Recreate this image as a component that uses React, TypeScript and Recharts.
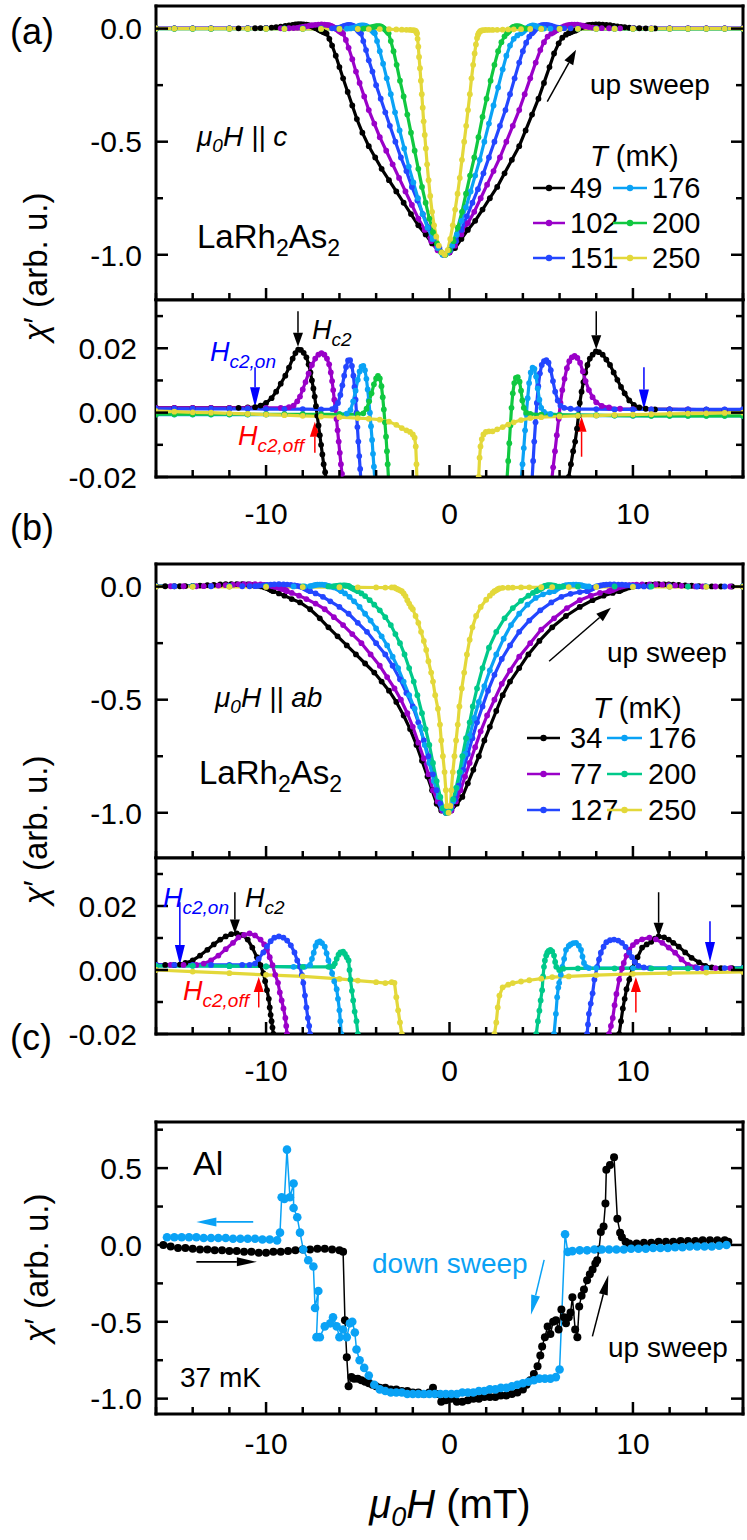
import React from "react";
import { LineChart, Line, XAxis, YAxis, ReferenceLine } from "recharts";

type P = [number, number];

// ---------- axis ticks / labels ----------
const X_TICKS = [-16, -14, -12, -10, -8, -6, -4, -2, 0, 2, 4, 6, 8, 10, 12, 14, 16];
const X_LABELS = [-10, 0, 10];
const Y_TICKS_MAIN = [-1.0, -0.75, -0.5, -0.25, 0];
const Y_LABELS_MAIN: [number, string][] = [[0, "0.0"], [-0.5, "-0.5"], [-1, "-1.0"]];
const Y_TICKS_ZOOM = [-0.02, -0.01, 0, 0.01, 0.02, 0.03];
const Y_LABELS_ZOOM: [number, string][] = [[0.02, "0.02"], [0, "0.00"], [-0.02, "-0.02"]];
const Y_TICKS_C = [-1, -0.75, -0.5, -0.25, 0, 0.25, 0.5, 0.75];
const Y_LABELS_C: [number, string][] = [[0.5, "0.5"], [0, "0.0"], [-0.5, "-0.5"], [-1, "-1.0"]];

// ---------- legend labels ----------
const A_TEMPS = ["49", "102", "151", "176", "200", "250"];
const B_TEMPS = ["34", "77", "127", "176", "200", "250"];

// ---------- colours ----------
const C_BLACK = "#000000";
const C_PURPLE = "#9a00c8";
const C_BLUE = "#2346ff";
const C_LBLUE = "#0aa2f5";
const C_GREEN_A = "#10c840";
const C_GREEN_B = "#00c98a";
const C_YELLOW = "#e3d83a";
const A_COLORS = [C_BLACK, C_PURPLE, C_BLUE, C_LBLUE, C_GREEN_A, C_YELLOW];
const B_COLORS = [C_BLACK, C_PURPLE, C_BLUE, C_LBLUE, C_GREEN_B, C_YELLOW];

// ---------- panel (a): H || c ----------
const A_49: P[] = [
  [-16, 0.0015], [-15, 0.0015], [-14, 0.0015], [-13, 0.0015], [-12, 0.0015], [-11.5, 0.0015], [-11, 0.0016], [-10.6, 0.0017], [-10.3, 0.0022], [-10.0, 0.003], [-9.7, 0.0045], [-9.45, 0.0065], [-9.2, 0.009], [-8.95, 0.0115], [-8.75, 0.014], [-8.55, 0.0168], [-8.4, 0.0185], [-8.25, 0.0196], [-8.1, 0.0195], [-7.95, 0.0186], [-7.8, 0.0172], [-7.68, 0.015], [-7.58, 0.0125], [-7.5, 0.01], [-7.42, 0.0075], [-7.35, 0.005], [-7.28, 0.002], [-7.21, -0.001], [-7.14, -0.004], [-7.07, -0.007], [-7.0, -0.01], [-6.93, -0.013], [-6.86, -0.016], [-6.78, -0.0185], [-6.7, -0.022],
  [-6.55, -0.045], [-6.4, -0.075], [-6.2, -0.12], [-6.0, -0.17], [-5.8, -0.22], [-5.55, -0.28], [-5.3, -0.34], [-5.05, -0.4], [-4.75, -0.46], [-4.4, -0.52], [-4.05, -0.57], [-3.7, -0.62], [-3.3, -0.67], [-2.9, -0.72], [-2.5, -0.77], [-2.1, -0.82], [-1.7, -0.87], [-1.3, -0.91], [-0.95, -0.95], [-0.6, -0.98], [-0.3, -1.0],
  [0.0, -0.99], [0.3, -0.97], [0.65, -0.93], [1.0, -0.89], [1.4, -0.85], [1.8, -0.8], [2.2, -0.75], [2.6, -0.7], [3.0, -0.64], [3.4, -0.58], [3.8, -0.52], [4.15, -0.45], [4.5, -0.38], [4.85, -0.31], [5.15, -0.24], [5.45, -0.17], [5.7, -0.11], [5.95, -0.065], [6.15, -0.04], [6.35, -0.027], [6.5, -0.02],
  [6.62, -0.016], [6.74, -0.012], [6.85, -0.009], [6.95, -0.005], [7.03, -0.001], [7.1, 0.003], [7.2, 0.0065], [7.3, 0.0095], [7.4, 0.0125], [7.52, 0.0148], [7.65, 0.0168], [7.8, 0.018], [7.98, 0.019], [8.15, 0.0188], [8.35, 0.018], [8.55, 0.0165], [8.75, 0.0148], [8.95, 0.0125], [9.15, 0.0102], [9.35, 0.008], [9.55, 0.006], [9.8, 0.0038], [10.05, 0.0024], [10.35, 0.0016], [10.7, 0.0012], [11.2, 0.001], [12, 0.001], [13, 0.0009], [14, 0.0009], [15, 0.0008], [16, 0.0008],
];
const A_102: P[] = [
  [-16, 0.0015], [-15, 0.0015], [-14, 0.0015], [-13, 0.0015], [-12, 0.0015], [-11, 0.0015], [-10, 0.0015], [-9.2, 0.0015], [-8.75, 0.0017], [-8.5, 0.0022], [-8.3, 0.0035], [-8.15, 0.005], [-8.0, 0.0072], [-7.85, 0.0095], [-7.68, 0.0122], [-7.5, 0.0148], [-7.32, 0.0168], [-7.15, 0.018], [-6.98, 0.0185], [-6.82, 0.018], [-6.68, 0.0168], [-6.56, 0.015], [-6.47, 0.0125], [-6.4, 0.0098], [-6.34, 0.007], [-6.28, 0.004], [-6.22, 0.001], [-6.16, -0.002], [-6.1, -0.0055], [-6.04, -0.009], [-5.98, -0.0125], [-5.92, -0.016], [-5.86, -0.019], [-5.8, -0.022],
  [-5.65, -0.05], [-5.5, -0.085], [-5.3, -0.135], [-5.1, -0.19], [-4.9, -0.24], [-4.65, -0.3], [-4.4, -0.36], [-4.1, -0.42], [-3.8, -0.48], [-3.45, -0.54], [-3.1, -0.6], [-2.75, -0.66], [-2.4, -0.72], [-2.05, -0.78], [-1.7, -0.84], [-1.35, -0.89], [-1.0, -0.94], [-0.65, -0.98], [-0.3, -1.0],
  [0.0, -0.99], [0.3, -0.96], [0.65, -0.91], [1.0, -0.86], [1.35, -0.81], [1.7, -0.75], [2.05, -0.69], [2.4, -0.63], [2.75, -0.57], [3.1, -0.5], [3.45, -0.43], [3.8, -0.36], [4.1, -0.29], [4.4, -0.22], [4.7, -0.15], [4.95, -0.095], [5.15, -0.06], [5.35, -0.035], [5.55, -0.022],
  [5.65, -0.017], [5.75, -0.012], [5.85, -0.007], [5.95, -0.002], [6.05, 0.003], [6.15, 0.007], [6.27, 0.0105], [6.4, 0.0138], [6.53, 0.016], [6.67, 0.0172], [6.82, 0.0176], [6.97, 0.017], [7.12, 0.0155], [7.27, 0.0128], [7.42, 0.0098], [7.6, 0.007], [7.8, 0.0048], [8.0, 0.0032], [8.3, 0.0021], [8.7, 0.0016], [9.3, 0.0012], [10, 0.0011], [11, 0.001], [12, 0.001], [13, 0.001], [14, 0.0009], [15, 0.0009], [16, 0.0009],
];
const A_151: P[] = [
  [-16, 0.0012], [-15, 0.0012], [-14, 0.0012], [-13, 0.0012], [-12, 0.0012], [-11, 0.0012], [-10, 0.0011], [-9, 0.0011], [-8, 0.0011], [-7, 0.001], [-6.4, 0.0011], [-6.22, 0.0017], [-6.08, 0.003], [-5.95, 0.0055], [-5.84, 0.0085], [-5.74, 0.0115], [-5.64, 0.0142], [-5.53, 0.0162], [-5.42, 0.0163], [-5.32, 0.0145], [-5.24, 0.0115], [-5.18, 0.008], [-5.12, 0.004], [-5.07, 0.0], [-5.02, -0.0045], [-4.97, -0.009], [-4.92, -0.0135], [-4.87, -0.0175], [-4.82, -0.022],
  [-4.7, -0.055], [-4.55, -0.095], [-4.4, -0.14], [-4.2, -0.19], [-4.0, -0.25], [-3.75, -0.31], [-3.5, -0.37], [-3.25, -0.43], [-2.95, -0.5], [-2.65, -0.57], [-2.35, -0.63], [-2.05, -0.7], [-1.75, -0.76], [-1.45, -0.82], [-1.15, -0.88], [-0.85, -0.93], [-0.55, -0.97], [-0.25, -1.0],
  [0.05, -0.98], [0.35, -0.94], [0.65, -0.89], [0.95, -0.83], [1.25, -0.77], [1.55, -0.71], [1.85, -0.64], [2.15, -0.57], [2.45, -0.5], [2.75, -0.43], [3.05, -0.36], [3.3, -0.29], [3.55, -0.22], [3.8, -0.15], [4.0, -0.1], [4.18, -0.062], [4.35, -0.035], [4.5, -0.021],
  [4.56, -0.015], [4.62, -0.009], [4.69, -0.003], [4.76, 0.003], [4.84, 0.0082], [4.93, 0.0122], [5.03, 0.0148], [5.15, 0.016], [5.28, 0.0163], [5.4, 0.0155], [5.52, 0.0132], [5.64, 0.0098], [5.76, 0.0065], [5.9, 0.0038], [6.05, 0.0022], [6.25, 0.0015], [6.6, 0.0012], [7, 0.0011], [8, 0.0011], [9, 0.001], [10, 0.001], [11, 0.001], [12, 0.001], [13, 0.001], [14, 0.001], [15, 0.001], [16, 0.001],
];
const A_176: P[] = [
  [-16, -0.0006], [-15, -0.0006], [-14, -0.0006], [-13, -0.0006], [-12, -0.0006], [-11, -0.0006], [-10, -0.0006], [-9, -0.0006], [-8, -0.0006], [-7, -0.0006], [-6, -0.0005], [-5.6, -0.0003], [-5.4, 0.0008], [-5.25, 0.0035], [-5.12, 0.0068], [-5.0, 0.0102], [-4.9, 0.0128], [-4.8, 0.0143], [-4.7, 0.0145], [-4.61, 0.0132], [-4.53, 0.0105], [-4.46, 0.0072], [-4.4, 0.0038], [-4.34, 0.0], [-4.28, -0.0042], [-4.22, -0.0085], [-4.17, -0.0128], [-4.12, -0.0168], [-4.07, -0.021],
  [-3.95, -0.055], [-3.8, -0.1], [-3.62, -0.155], [-3.42, -0.22], [-3.2, -0.29], [-2.97, -0.37], [-2.72, -0.45], [-2.47, -0.53], [-2.22, -0.61], [-1.97, -0.68], [-1.72, -0.75], [-1.47, -0.82], [-1.2, -0.88], [-0.93, -0.93], [-0.65, -0.97], [-0.38, -1.0],
  [-0.1, -0.99], [0.15, -0.96], [0.4, -0.91], [0.65, -0.85], [0.9, -0.79], [1.15, -0.72], [1.4, -0.65], [1.65, -0.58], [1.9, -0.5], [2.15, -0.42], [2.4, -0.34], [2.65, -0.26], [2.9, -0.18], [3.1, -0.12], [3.3, -0.075], [3.5, -0.045], [3.7, -0.03], [3.9, -0.021],
  [3.98, -0.016], [4.05, -0.011], [4.12, -0.0055], [4.19, -0.0005], [4.26, 0.0045], [4.34, 0.0092], [4.43, 0.0125], [4.53, 0.014], [4.63, 0.0136], [4.72, 0.0112], [4.81, 0.0075], [4.9, 0.004], [5.0, 0.0015], [5.15, 0.0002], [5.5, -0.0004], [6, -0.0007], [7, -0.0008], [8, -0.0009], [9, -0.0009], [10, -0.001], [11, -0.001], [12, -0.001], [13, -0.001], [14, -0.001], [15, -0.001], [16, -0.001],
];
const A_200: P[] = [
  [-16, -0.0005], [-15, -0.0005], [-14, -0.0005], [-13, -0.0005], [-12, -0.0005], [-11, -0.0005], [-10, -0.0005], [-9, -0.0005], [-8, -0.0005], [-7, -0.0005], [-6, -0.0005], [-5, -0.0005], [-4.7, -0.0002], [-4.52, 0.0012], [-4.38, 0.0035], [-4.25, 0.006], [-4.12, 0.0088], [-4.0, 0.0106], [-3.9, 0.0114], [-3.8, 0.0106], [-3.71, 0.0082], [-3.64, 0.0048], [-3.58, 0.001], [-3.52, -0.003], [-3.46, -0.0075], [-3.41, -0.012], [-3.37, -0.016], [-3.32, -0.021],
  [-3.2, -0.055], [-3.05, -0.1], [-2.88, -0.16], [-2.7, -0.23], [-2.5, -0.3], [-2.3, -0.38], [-2.1, -0.46], [-1.9, -0.54], [-1.7, -0.62], [-1.5, -0.7], [-1.3, -0.77], [-1.1, -0.84], [-0.9, -0.9], [-0.68, -0.95], [-0.45, -0.99], [-0.22, -1.0],
  [0.0, -0.98], [0.22, -0.94], [0.45, -0.88], [0.68, -0.81], [0.9, -0.73], [1.12, -0.65], [1.35, -0.57], [1.58, -0.48], [1.8, -0.39], [2.02, -0.31], [2.24, -0.23], [2.45, -0.16], [2.65, -0.1], [2.83, -0.06], [3.0, -0.034], [3.13, -0.021],
  [3.2, -0.015], [3.26, -0.0095], [3.32, -0.004], [3.38, 0.0015], [3.45, 0.006], [3.53, 0.0092], [3.62, 0.0108], [3.72, 0.011], [3.82, 0.0096], [3.9, 0.0068], [3.97, 0.0038], [4.05, 0.0015], [4.18, 0.0], [4.4, -0.0004], [5, -0.0006], [6, -0.0007], [7, -0.0008], [8, -0.0008], [9, -0.0009], [10, -0.0009], [11, -0.001], [12, -0.001], [13, -0.001], [14, -0.001], [15, -0.001], [16, -0.001],
];
const A_250: P[] = [
  [-16, 0.0005], [-15, 0.0003], [-14, 0.0001], [-13, 0.0], [-12, -0.0002], [-11, -0.0004], [-10, -0.0006], [-9, -0.0008], [-8, -0.001], [-7, -0.0012], [-6, -0.0014], [-5, -0.0017], [-4.4, -0.0019], [-3.8, -0.0022], [-3.3, -0.0028], [-2.9, -0.0038], [-2.6, -0.0048], [-2.35, -0.0055], [-2.15, -0.006], [-2.0, -0.0068], [-1.9, -0.0078], [-1.84, -0.0105], [-1.8, -0.016], [-1.77, -0.022],
  [-1.74, -0.045], [-1.7, -0.08], [-1.66, -0.125], [-1.61, -0.175], [-1.56, -0.23], [-1.51, -0.29], [-1.46, -0.35], [-1.41, -0.41], [-1.35, -0.47], [-1.29, -0.53], [-1.22, -0.6], [-1.14, -0.67], [-1.05, -0.74], [-0.95, -0.81], [-0.84, -0.87], [-0.72, -0.92], [-0.58, -0.96], [-0.42, -0.99], [-0.26, -1.0],
  [-0.1, -0.98], [0.04, -0.93], [0.18, -0.87], [0.31, -0.8], [0.44, -0.73], [0.56, -0.66], [0.68, -0.58], [0.8, -0.5], [0.91, -0.43], [1.01, -0.36], [1.11, -0.29], [1.2, -0.22], [1.29, -0.16], [1.37, -0.11], [1.44, -0.07], [1.5, -0.042], [1.55, -0.028], [1.59, -0.02],
  [1.64, -0.014], [1.69, -0.0105], [1.76, -0.0082], [1.85, -0.0068], [1.98, -0.006], [2.15, -0.0058], [2.35, -0.0058], [2.6, -0.0052], [2.9, -0.0045], [3.2, -0.0037], [3.5, -0.003], [3.9, -0.0023], [4.4, -0.0017], [5, -0.0014], [6, -0.0012], [7, -0.001], [8, -0.0009], [9, -0.0007], [10, -0.0006], [11, -0.0005], [12, -0.0004], [13, -0.0003], [14, -0.0002], [15, -0.0001], [16, 0.0],
];

// ---------- panel (b): H || ab ----------
const B_34: P[] = [
  [-16, 0.0016], [-15.5, 0.0016], [-15, 0.0016], [-14.7, 0.0017], [-14.4, 0.0022], [-14.0, 0.003], [-13.6, 0.0045], [-13.2, 0.0063], [-12.85, 0.008], [-12.5, 0.0095], [-12.2, 0.0105], [-11.9, 0.0112], [-11.6, 0.0114], [-11.3, 0.011], [-11.0, 0.0095], [-10.75, 0.007], [-10.5, 0.004], [-10.3, 0.0015], [-10.15, -0.001], [-10.05, -0.0035], [-9.95, -0.0063], [-9.85, -0.009], [-9.8, -0.0117], [-9.75, -0.014], [-9.7, -0.016], [-9.65, -0.018], [-9.6, -0.02],
  [-9.3, -0.03], [-9.0, -0.04], [-8.6, -0.055], [-8.15, -0.07], [-7.6, -0.1], [-7.07, -0.14], [-6.6, -0.18], [-6.1, -0.22], [-5.6, -0.26], [-5.1, -0.3], [-4.6, -0.34], [-4.1, -0.38], [-3.7, -0.42], [-3.3, -0.46], [-2.9, -0.51], [-2.5, -0.57], [-2.15, -0.63], [-1.8, -0.7], [-1.5, -0.77], [-1.2, -0.84], [-0.95, -0.9], [-0.7, -0.96], [-0.45, -0.99], [-0.2, -1.0],
  [0.1, -0.99], [0.4, -0.96], [0.7, -0.93], [1.0, -0.87], [1.3, -0.81], [1.6, -0.75], [1.9, -0.68], [2.2, -0.62], [2.55, -0.55], [2.9, -0.48], [3.3, -0.42], [3.8, -0.36], [4.3, -0.3], [4.9, -0.24], [5.6, -0.18], [6.35, -0.13], [7.1, -0.09], [7.8, -0.06], [8.4, -0.04], [8.9, -0.028], [9.25, -0.02],
  [9.35, -0.016], [9.45, -0.012], [9.55, -0.009], [9.65, -0.006], [9.8, -0.003], [9.97, 0.0006], [10.1, 0.0025], [10.25, 0.004], [10.5, 0.007], [10.75, 0.008], [11.0, 0.0088], [11.2, 0.0098], [11.4, 0.0105], [11.7, 0.0102], [11.95, 0.0095], [12.2, 0.0085], [12.5, 0.0073], [12.85, 0.0055], [13.2, 0.0038], [13.6, 0.0024], [13.95, 0.0013], [14.3, 0.0008], [14.8, 0.0006], [15.4, 0.0006], [16, 0.0006],
];
const B_77: P[] = [
  [-16, 0.0016], [-15.2, 0.0016], [-14.5, 0.0016], [-13.8, 0.0016], [-13.4, 0.002], [-13.0, 0.003], [-12.6, 0.0045], [-12.2, 0.0065], [-11.8, 0.0085], [-11.5, 0.0102], [-11.2, 0.011], [-10.9, 0.0114], [-10.6, 0.0108], [-10.3, 0.0095], [-10.1, 0.008], [-9.95, 0.0063], [-9.8, 0.004], [-9.65, 0.0015], [-9.5, -0.0015], [-9.35, -0.004], [-9.25, -0.007], [-9.15, -0.0095], [-9.05, -0.012], [-8.95, -0.015], [-8.9, -0.0175], [-8.86, -0.02],
  [-8.6, -0.028], [-8.2, -0.04], [-7.8, -0.055], [-7.3, -0.075], [-6.8, -0.1], [-6.3, -0.135], [-5.8, -0.17], [-5.3, -0.21], [-4.8, -0.25], [-4.3, -0.3], [-3.8, -0.35], [-3.4, -0.4], [-3.0, -0.45], [-2.65, -0.5], [-2.3, -0.56], [-2.0, -0.62], [-1.7, -0.69], [-1.4, -0.76], [-1.15, -0.83], [-0.9, -0.9], [-0.65, -0.95], [-0.4, -0.99], [-0.15, -1.0],
  [0.1, -0.99], [0.35, -0.95], [0.6, -0.9], [0.85, -0.84], [1.1, -0.78], [1.4, -0.71], [1.7, -0.64], [2.05, -0.57], [2.45, -0.5], [2.85, -0.43], [3.3, -0.37], [3.8, -0.31], [4.4, -0.25], [5.0, -0.19], [5.7, -0.14], [6.4, -0.095], [7.1, -0.06], [7.7, -0.04], [8.2, -0.028], [8.7, -0.02],
  [8.8, -0.0175], [8.9, -0.015], [9.0, -0.011], [9.1, -0.0075], [9.25, -0.003], [9.4, 0.0005], [9.5, 0.0022], [9.65, 0.0045], [9.8, 0.0063], [10.0, 0.0078], [10.2, 0.0088], [10.5, 0.0096], [10.9, 0.0101], [11.25, 0.0096], [11.6, 0.0085], [11.95, 0.007], [12.3, 0.0054], [12.65, 0.0033], [13.0, 0.0016], [13.4, 0.0009], [13.8, 0.0006], [14.5, 0.0006], [15.3, 0.0006], [16, 0.0006],
];
const B_127: P[] = [
  [-16, 0.0016], [-15, 0.0016], [-14, 0.0016], [-13, 0.0016], [-12, 0.0016], [-11.3, 0.0016], [-10.9, 0.0016], [-10.6, 0.002], [-10.4, 0.0035], [-10.15, 0.0055], [-9.95, 0.0073], [-9.75, 0.009], [-9.55, 0.0101], [-9.3, 0.0105], [-9.05, 0.0101], [-8.85, 0.0092], [-8.65, 0.0077], [-8.45, 0.0055], [-8.3, 0.003], [-8.15, 0.001], [-8.05, -0.0015], [-7.97, -0.004], [-7.88, -0.008], [-7.8, -0.0117], [-7.72, -0.015], [-7.65, -0.0175], [-7.6, -0.02],
  [-7.3, -0.03], [-6.9, -0.045], [-6.5, -0.065], [-6.0, -0.09], [-5.5, -0.12], [-5.0, -0.16], [-4.5, -0.2], [-4.0, -0.25], [-3.5, -0.3], [-3.1, -0.35], [-2.7, -0.41], [-2.35, -0.47], [-2.0, -0.53], [-1.7, -0.6], [-1.4, -0.68], [-1.15, -0.75], [-0.9, -0.83], [-0.7, -0.9], [-0.5, -0.96], [-0.3, -0.99], [-0.1, -1.0],
  [0.1, -0.98], [0.3, -0.94], [0.5, -0.88], [0.75, -0.81], [1.0, -0.74], [1.25, -0.67], [1.5, -0.6], [1.8, -0.53], [2.1, -0.46], [2.45, -0.39], [2.85, -0.32], [3.3, -0.26], [3.8, -0.2], [4.35, -0.15], [4.95, -0.105], [5.55, -0.07], [6.1, -0.045], [6.6, -0.032], [7.1, -0.024], [7.5, -0.02],
  [7.55, -0.017], [7.6, -0.0137], [7.7, -0.0105], [7.8, -0.0073], [7.9, -0.003], [8.05, 0.001], [8.15, 0.0033], [8.25, 0.0054], [8.4, 0.0073], [8.55, 0.0087], [8.75, 0.0093], [8.97, 0.0095], [9.2, 0.0092], [9.4, 0.0085], [9.6, 0.0072], [9.8, 0.0055], [9.95, 0.004], [10.1, 0.0025], [10.3, 0.0013], [10.6, 0.0008], [10.9, 0.0006], [12, 0.0006], [13.5, 0.0006], [15, 0.0006], [16, 0.0006],
];
const B_176: P[] = [
  [-16, 0.0013], [-14, 0.0013], [-12, 0.0012], [-10, 0.0011], [-8.5, 0.001], [-7.9, 0.001], [-7.6, 0.0016], [-7.5, 0.0035], [-7.4, 0.0054], [-7.3, 0.0075], [-7.2, 0.0086], [-7.07, 0.0089], [-6.95, 0.0084], [-6.8, 0.0073], [-6.7, 0.0052], [-6.6, 0.003], [-6.5, 0.001], [-6.4, -0.001], [-6.28, -0.0035], [-6.15, -0.006], [-6.08, -0.009], [-6.0, -0.0126], [-5.95, -0.016], [-5.9, -0.02],
  [-5.7, -0.03], [-5.45, -0.045], [-5.2, -0.065], [-4.9, -0.09], [-4.6, -0.12], [-4.3, -0.15], [-4.0, -0.185], [-3.7, -0.22], [-3.4, -0.26], [-3.1, -0.31], [-2.8, -0.36], [-2.5, -0.42], [-2.2, -0.48], [-1.9, -0.54], [-1.6, -0.62], [-1.35, -0.7], [-1.1, -0.78], [-0.85, -0.86], [-0.6, -0.93], [-0.4, -0.98], [-0.2, -1.0],
  [0.0, -0.99], [0.2, -0.95], [0.4, -0.89], [0.6, -0.82], [0.85, -0.74], [1.1, -0.66], [1.35, -0.58], [1.6, -0.51], [1.9, -0.44], [2.2, -0.37], [2.55, -0.3], [2.95, -0.23], [3.35, -0.17], [3.8, -0.12], [4.25, -0.08], [4.7, -0.05], [5.1, -0.034], [5.45, -0.025], [5.7, -0.02],
  [5.8, -0.0137], [5.87, -0.0085], [5.93, -0.0055], [5.98, -0.004], [6.07, -0.0015], [6.15, 0.001], [6.25, 0.0035], [6.35, 0.0063], [6.5, 0.0075], [6.6, 0.008], [6.75, 0.0084], [6.9, 0.0085], [7.05, 0.0076], [7.17, 0.0063], [7.25, 0.0042], [7.33, 0.0022], [7.45, 0.001], [7.6, 0.0006], [8, 0.0006], [10, 0.0006], [12, 0.0006], [14, 0.0006], [16, 0.0006],
];
const B_200: P[] = [
  [-16, 0.0013], [-14, 0.0013], [-12, 0.0012], [-10, 0.0011], [-8, 0.001], [-6.6, 0.001], [-6.35, 0.0012], [-6.25, 0.002], [-6.15, 0.0035], [-6.05, 0.0048], [-5.95, 0.0055], [-5.8, 0.0057], [-5.7, 0.005], [-5.6, 0.004], [-5.5, 0.003], [-5.45, 0.0], [-5.4, -0.003], [-5.32, -0.0065], [-5.25, -0.0095], [-5.17, -0.013], [-5.07, -0.016], [-5.0, -0.02],
  [-4.8, -0.03], [-4.6, -0.042], [-4.35, -0.06], [-4.1, -0.08], [-3.8, -0.105], [-3.5, -0.135], [-3.2, -0.17], [-2.95, -0.21], [-2.7, -0.25], [-2.45, -0.3], [-2.2, -0.36], [-1.95, -0.42], [-1.75, -0.48], [-1.5, -0.56], [-1.3, -0.63], [-1.1, -0.7], [-0.9, -0.78], [-0.7, -0.86], [-0.5, -0.93], [-0.35, -0.98], [-0.15, -1.0],
  [0.05, -0.98], [0.2, -0.94], [0.36, -0.89], [0.55, -0.82], [0.7, -0.75], [0.9, -0.67], [1.1, -0.6], [1.27, -0.53], [1.5, -0.45], [1.8, -0.36], [2.15, -0.27], [2.55, -0.2], [3.0, -0.14], [3.45, -0.095], [3.9, -0.063], [4.3, -0.04], [4.55, -0.028], [4.73, -0.02],
  [4.82, -0.016], [4.9, -0.0127], [4.97, -0.0095], [5.05, -0.0063], [5.1, -0.002], [5.15, 0.001], [5.2, 0.003], [5.27, 0.0045], [5.33, 0.0054], [5.4, 0.006], [5.5, 0.0063], [5.6, 0.0058], [5.7, 0.0045], [5.76, 0.0025], [5.82, 0.001], [5.98, 0.0], [6.2, 0.0004], [7, 0.0005], [9, 0.0005], [11, 0.0005], [13, 0.0005], [16, 0.0005],
];
const B_250: P[] = [
  [-16, 0.0], [-14, -0.0005], [-12, -0.001], [-10, -0.0015], [-8, -0.002], [-6, -0.0028], [-5, -0.0033], [-4, -0.0038], [-3.5, -0.0041], [-3.15, -0.0038], [-3.0, -0.004], [-2.9, -0.0085], [-2.8, -0.0126], [-2.7, -0.0164], [-2.6, -0.02],
  [-2.5, -0.03], [-2.4, -0.042], [-2.3, -0.06], [-2.2, -0.075], [-2.1, -0.09], [-2.0, -0.1], [-1.85, -0.13], [-1.7, -0.16], [-1.55, -0.2], [-1.4, -0.24], [-1.27, -0.28], [-1.15, -0.33], [-1.0, -0.38], [-0.9, -0.42], [-0.78, -0.48], [-0.63, -0.54], [-0.52, -0.61], [-0.45, -0.68], [-0.36, -0.75], [-0.27, -0.82], [-0.2, -0.9], [-0.15, -0.97], [-0.05, -1.0],
  [0.05, -0.97], [0.1, -0.9], [0.18, -0.82], [0.27, -0.75], [0.36, -0.68], [0.45, -0.61], [0.54, -0.53], [0.67, -0.45], [0.8, -0.38], [0.95, -0.3], [1.1, -0.235], [1.25, -0.18], [1.45, -0.13], [1.7, -0.09], [2.0, -0.058], [2.2, -0.04], [2.35, -0.028], [2.45, -0.02],
  [2.55, -0.0164], [2.63, -0.0117], [2.72, -0.008], [2.9, -0.0054], [3.2, -0.0046], [3.45, -0.0041], [3.9, -0.0036], [4.35, -0.0032], [5, -0.0027], [5.6, -0.0022], [6.5, -0.002], [8, -0.0016], [10, -0.0012], [12, -0.001], [14, -0.0008], [16, -0.0006],
];

// ---------- panel (c): Al, 37 mK ----------
const C_UP: P[] = [
  [-15.6, 0.0], [-15.2, -0.01], [-14.8, -0.02], [-14.4, -0.02], [-14.0, -0.025], [-13.6, -0.03], [-13.2, -0.03], [-12.8, -0.035], [-12.4, -0.035], [-12.0, -0.04], [-11.6, -0.04], [-11.2, -0.045], [-10.8, -0.045], [-10.4, -0.05], [-10.0, -0.05], [-9.6, -0.045], [-9.2, -0.045], [-8.8, -0.04], [-8.4, -0.035], [-8.0, -0.03], [-7.6, -0.03], [-7.2, -0.025], [-6.8, -0.025], [-6.4, -0.03], [-6.0, -0.035], [-5.8, -0.045],
  [-5.7, -0.49], [-5.6, -0.73], [-5.5, -0.92], [-5.35, -0.86], [-5.2, -0.87], [-5.0, -0.87], [-4.8, -0.88], [-4.6, -0.89], [-4.4, -0.9], [-4.2, -0.91], [-4.0, -0.92], [-3.8, -0.93], [-3.5, -0.93], [-3.2, -0.94], [-2.9, -0.94], [-2.6, -0.95], [-2.3, -0.95], [-2.0, -0.96], [-1.7, -0.96], [-1.4, -0.97], [-1.1, -0.96], [-0.9, -0.93], [-0.7, -0.97], [-0.45, -1.02], [-0.2, -1.01], [0.1, -1.0], [0.4, -1.02], [0.7, -1.02], [1.0, -1.01], [1.3, -1.0], [1.6, -1.0], [1.9, -0.99], [2.2, -0.99], [2.5, -0.99], [2.8, -0.98], [3.1, -0.98], [3.4, -0.97], [3.7, -0.96], [4.0, -0.94], [4.2, -0.91], [4.4, -0.88], [4.6, -0.84], [4.8, -0.79], [4.95, -0.72], [5.05, -0.66], [5.2, -0.6], [5.35, -0.53], [5.5, -0.58], [5.65, -0.5], [5.8, -0.49], [5.95, -0.55], [6.1, -0.42], [6.25, -0.47], [6.35, -0.51], [6.5, -0.47], [6.6, -0.44], [6.7, -0.34], [6.85, -0.55], [6.97, -0.6], [7.07, -0.4], [7.2, -0.33], [7.33, -0.29], [7.5, -0.23], [7.65, -0.19], [7.8, -0.16], [7.95, -0.12], [8.05, -0.1], [8.15, -0.03], [8.25, 0.085], [8.4, 0.12], [8.5, 0.27], [8.55, 0.49], [8.75, 0.52], [8.97, 0.57], [9.15, 0.17], [9.3, 0.08], [9.4, 0.05], [9.6, 0.02], [9.8, 0.01], [10.2, 0.01], [10.6, 0.015], [11.0, 0.015], [11.4, 0.02], [11.8, 0.02], [12.2, 0.02], [12.6, 0.025], [13.0, 0.025], [13.4, 0.025], [13.8, 0.03], [14.2, 0.03], [14.6, 0.03], [15.0, 0.03], [15.2, 0.02],
];
const C_DOWN: P[] = [
  [15.1, 0.0], [14.7, -0.005], [14.3, -0.01], [13.9, -0.01], [13.5, -0.01], [13.1, -0.01], [12.7, -0.015], [12.3, -0.015], [11.9, -0.02], [11.5, -0.02], [11.1, -0.02], [10.7, -0.025], [10.3, -0.025], [9.9, -0.025], [9.5, -0.03], [9.1, -0.03], [8.7, -0.03], [8.3, -0.03], [7.9, -0.03], [7.5, -0.035], [7.1, -0.035], [6.7, -0.04], [6.45, -0.045], [6.3, 0.07],
  [6.0, -0.81], [5.8, -0.86], [5.5, -0.87], [5.2, -0.87], [4.9, -0.87], [4.6, -0.88], [4.3, -0.89], [4.0, -0.9], [3.7, -0.91], [3.4, -0.92], [3.1, -0.93], [2.8, -0.93], [2.5, -0.94], [2.2, -0.94], [1.9, -0.95], [1.6, -0.95], [1.3, -0.96], [1.0, -0.96], [0.7, -0.96], [0.4, -0.97], [0.1, -0.97], [-0.2, -0.97], [-0.5, -0.97], [-0.8, -0.97], [-1.1, -0.97], [-1.4, -0.97], [-1.7, -0.97], [-2.0, -0.97], [-2.3, -0.97], [-2.6, -0.96], [-2.9, -0.96], [-3.2, -0.96], [-3.5, -0.95], [-3.8, -0.94], [-4.1, -0.91], [-4.4, -0.85], [-4.65, -0.8], [-4.9, -0.75], [-5.07, -0.68], [-5.16, -0.57], [-5.3, -0.5], [-5.43, -0.51], [-5.6, -0.6], [-5.8, -0.55], [-6.0, -0.6], [-6.15, -0.53], [-6.35, -0.47], [-6.5, -0.51], [-6.8, -0.53], [-7.07, -0.6], [-7.25, -0.6], [-7.15, -0.3], [-7.33, -0.41], [-7.42, -0.14], [-7.7, -0.1], [-7.97, -0.03], [-8.15, 0.08], [-8.3, 0.18], [-8.5, 0.24], [-8.5, 0.4], [-8.7, 0.31], [-8.86, 0.62], [-9.0, 0.3], [-9.15, 0.31], [-9.24, 0.08], [-9.4, 0.03],
  [-9.8, 0.035], [-10.2, 0.035], [-10.6, 0.04], [-11.0, 0.04], [-11.4, 0.04], [-11.8, 0.04], [-12.2, 0.045], [-12.6, 0.045], [-13.0, 0.045], [-13.4, 0.045], [-13.8, 0.05], [-14.2, 0.05], [-14.6, 0.05], [-15.0, 0.05], [-15.4, 0.05],
];

// ---------- helpers ----------
const FONT = "'Liberation Sans', Arial, Helvetica, sans-serif";
const AXIS_LINE = { stroke: "#000", strokeWidth: 3, strokeLinecap: "square" as const };
const TW = 2.5;
const TL_MAJ = 12;
const TL_MIN = 7;

const toPts = (a: P[]) => a.map(([x, y]) => ({ x, y }));

type Series = { pts: { x: number; y: number }[]; color: string; r: number; sw: number };
type Arrow = { x1: number; y1: number; x2: number; y2: number; color: string; sw: number; hl: number; hw: number };

const A_SERIES = [A_49, A_102, A_151, A_176, A_200, A_250].map((d, i) => ({ pts: toPts(d), color: A_COLORS[i], r: 2.9, sw: 3.2 }));
const B_SERIES = [B_34, B_77, B_127, B_176, B_200, B_250].map((d, i) => ({ pts: toPts(d), color: B_COLORS[i], r: 2.9, sw: 3.2 }));
const C_SERIES = [
  { pts: toPts(C_UP), color: C_BLACK, r: 4, sw: 1.5 },
  { pts: toPts(C_DOWN), color: C_LBLUE, r: 4.3, sw: 1.5 },
];

const ARROWS_A1: Arrow[] = [{ x1: 5.33, y1: -0.323, x2: 6.9, y2: -0.093, color: "#000", sw: 1.5, hl: 15, hw: 10 }];
const ARROWS_A2: Arrow[] = [
  { x1: -8.26, y1: 0.0315, x2: -8.26, y2: 0.0205, color: "#000", sw: 1.5, hl: 14, hw: 10 },
  { x1: 8.0, y1: 0.0315, x2: 8.0, y2: 0.0197, color: "#000", sw: 1.5, hl: 14, hw: 10 },
  { x1: -10.6, y1: 0.0141, x2: -10.6, y2: 0.0017, color: "#0000ff", sw: 1.5, hl: 20, hw: 10 },
  { x1: 10.6, y1: 0.0141, x2: 10.6, y2: 0.001, color: "#0000ff", sw: 1.5, hl: 20, hw: 10 },
  { x1: -7.34, y1: -0.0125, x2: -7.34, y2: -0.0028, color: "#ff0000", sw: 1.5, hl: 15, hw: 10 },
  { x1: 7.2, y1: -0.0137, x2: 7.2, y2: -0.0013, color: "#ff0000", sw: 1.5, hl: 15, hw: 10 },
];
const ARROWS_B1: Arrow[] = [{ x1: 5.43, y1: -0.33, x2: 8.8, y2: -0.093, color: "#000", sw: 1.5, hl: 15, hw: 10 }];
const ARROWS_B2: Arrow[] = [
  { x1: -11.7, y1: 0.0243, x2: -11.7, y2: 0.0114, color: "#000", sw: 1.5, hl: 14, hw: 10 },
  { x1: 11.4, y1: 0.0243, x2: 11.4, y2: 0.0104, color: "#000", sw: 1.5, hl: 14, hw: 10 },
  { x1: -14.7, y1: 0.0212, x2: -14.7, y2: 0.0016, color: "#0000ff", sw: 1.5, hl: 20, hw: 10 },
  { x1: 14.2, y1: 0.0152, x2: 14.2, y2: 0.0025, color: "#0000ff", sw: 1.5, hl: 20, hw: 10 },
  { x1: -10.4, y1: -0.0117, x2: -10.4, y2: -0.0022, color: "#ff0000", sw: 1.5, hl: 15, hw: 10 },
  { x1: 10.16, y1: -0.0133, x2: 10.16, y2: -0.0022, color: "#ff0000", sw: 1.5, hl: 15, hw: 10 },
];
const ARROWS_C: Arrow[] = [
  { x1: -10.7, y1: 0.15, x2: -13.8, y2: 0.15, color: C_LBLUE, sw: 1.8, hl: 20, hw: 9 },
  { x1: -13.8, y1: -0.11, x2: -10.5, y2: -0.11, color: "#000", sw: 1.8, hl: 20, hw: 9 },
  { x1: 5.16, y1: -0.097, x2: 4.44, y2: -0.455, color: C_LBLUE, sw: 1.5, hl: 20, hw: 9 },
  { x1: 7.79, y1: -0.595, x2: 8.66, y2: -0.195, color: "#000", sw: 1.5, hl: 20, hw: 9 },
];

function arrowShape(p: any, a: Arrow) {
  const { x1, y1, x2, y2 } = p;
  const dx = x2 - x1;
  const dy = y2 - y1;
  const len = Math.sqrt(dx * dx + dy * dy) || 1;
  const ux = dx / len;
  const uy = dy / len;
  const bx = x2 - ux * a.hl;
  const by = y2 - uy * a.hl;
  const px = (-uy * a.hw) / 2;
  const py = (ux * a.hw) / 2;
  return (
    <g>
      <line x1={x1} y1={y1} x2={bx} y2={by} stroke={a.color} strokeWidth={a.sw} />
      <polygon points={`${x2},${y2} ${bx + px},${by + py} ${bx - px},${by - py}`} fill={a.color} />
    </g>
  );
}

type PanelProps = {
  top: number;
  h: number;
  bottom: number;
  domain: [number, number];
  yTicks: number[];
  yLabels: [number, string][];
  xLabels: boolean;
  labelGap: number;
  xLabelDy: number;
  series: Series[];
  arrows: Arrow[];
};

// Plot area: x 156..743, y (top)..(top+h) in page coordinates.
function Panel(props: PanelProps) {
  const { top, h, bottom, domain, yTicks, yLabels, xLabels, labelGap, xLabelDy, series, arrows } = props;
  const findLabel = (v: number) => {
    const e = yLabels.find(([t]) => Math.abs(t - v) < 1e-9);
    return e ? e[1] : null;
  };
  return (
    <div style={{ position: "absolute", left: 0, top: top - 10 }}>
      <LineChart width={747} height={10 + h + bottom} margin={{ top: 9, right: 3, bottom: 0, left: 0 }} style={{ overflow: "visible" }}>
        <XAxis
          xAxisId="b"
          type="number"
          dataKey="x"
          domain={[-16, 16]}
          ticks={X_TICKS}
          interval={0}
          allowDataOverflow
          height={bottom}
          tickSize={0}
          tickMargin={0}
          tickLine={false}
          axisLine={AXIS_LINE}
          tick={(p: any) => {
            const v = p.payload.value;
            const major = X_LABELS.includes(v);
            return (
              <g>
                <line x1={p.x} y1={p.y} x2={p.x} y2={p.y - (major ? TL_MAJ : TL_MIN)} stroke="#000" strokeWidth={TW} />
                {xLabels && major ? (
                  <text x={p.x} y={p.y + xLabelDy} textAnchor="middle" fontSize={30} fontFamily={FONT} fill="#000">
                    {String(v)}
                  </text>
                ) : null}
              </g>
            );
          }}
        />
        <XAxis
          xAxisId="t"
          orientation="top"
          type="number"
          domain={[-16, 16]}
          ticks={X_TICKS}
          interval={0}
          allowDataOverflow
          height={1}
          tickSize={0}
          tickMargin={0}
          tickLine={false}
          axisLine={AXIS_LINE}
          tick={(p: any) => {
            const v = p.payload.value;
            const major = X_LABELS.includes(v);
            return <line x1={p.x} y1={p.y} x2={p.x} y2={p.y + (major ? TL_MAJ : TL_MIN)} stroke="#000" strokeWidth={TW} />;
          }}
        />
        <YAxis
          yAxisId="l"
          type="number"
          domain={domain}
          ticks={yTicks}
          interval={0}
          allowDataOverflow
          width={156}
          tickSize={0}
          tickMargin={0}
          tickLine={false}
          axisLine={AXIS_LINE}
          tick={(p: any) => {
            const v = p.payload.value;
            const lab = findLabel(v);
            return (
              <g>
                <line x1={p.x} y1={p.y} x2={p.x + (lab ? TL_MAJ : TL_MIN)} y2={p.y} stroke="#000" strokeWidth={TW} />
                {lab ? (
                  <text x={p.x - labelGap} y={p.y + 10.8} textAnchor="end" fontSize={30} fontFamily={FONT} fill="#000">
                    {lab}
                  </text>
                ) : null}
              </g>
            );
          }}
        />
        <YAxis
          yAxisId="r"
          orientation="right"
          type="number"
          domain={domain}
          ticks={yTicks}
          interval={0}
          allowDataOverflow
          width={1}
          tickSize={0}
          tickMargin={0}
          tickLine={false}
          axisLine={AXIS_LINE}
          tick={(p: any) => {
            const v = p.payload.value;
            const lab = findLabel(v);
            return <line x1={p.x} y1={p.y} x2={p.x - (lab ? TL_MAJ : TL_MIN)} y2={p.y} stroke="#000" strokeWidth={TW} />;
          }}
        />
        {series.map((s, i) => (
          <Line
            key={"s" + i}
            xAxisId="b"
            yAxisId="l"
            data={s.pts}
            dataKey="y"
            type="linear"
            stroke={s.color}
            strokeWidth={s.sw}
            strokeLinejoin="round"
            dot={{ r: s.r, fill: s.color, stroke: "none" }}
            activeDot={false}
            isAnimationActive={false}
          />
        ))}
        {arrows.map((a, i) => (
          <ReferenceLine
            key={"a" + i}
            xAxisId="b"
            yAxisId="l"
            segment={[{ x: a.x1, y: a.y1 }, { x: a.x2, y: a.y2 }]}
            ifOverflow="visible"
            shape={(p: any) => arrowShape(p, a)}
          />
        ))}
      </LineChart>
    </div>
  );
}

// ---------- text helpers ----------
function Txt(props: { x: number; y: number; fs?: number; fill?: string; anchor?: string; italic?: boolean; children: any }) {
  const { x, y, fs = 28, fill = "#000", anchor = "start", italic = false, children } = props;
  return (
    <text x={x} y={y + fs * 0.36} fontSize={fs} fill={fill} textAnchor={anchor as any} fontStyle={italic ? "italic" : "normal"} fontFamily={FONT}>
      {children}
    </text>
  );
}

function Hc(props: { x: number; y: number; sub: string; fill: string }) {
  const { x, y, sub, fill } = props;
  return (
    <text x={x} y={y + 9} fontSize={27} fill={fill} fontStyle="italic" fontFamily={FONT}>
      H
      <tspan fontSize={19} dy={7}>
        {sub}
      </tspan>
    </text>
  );
}

function YTitle(props: { cx: number; cy: number }) {
  return (
    <text transform={`translate(${props.cx},${props.cy}) rotate(-90)`} textAnchor="middle" fontSize={33} fontFamily={FONT} fill="#000" y={11}>
      <tspan fontStyle="italic">χ</tspan>
      <tspan>′ (arb. u.)</tspan>
    </text>
  );
}

function Legend(props: { temps: string[]; colors: string[]; rows: number[]; c1: [number, number, number]; c2: [number, number, number]; titleX: number; titleY: number }) {
  const { temps, colors, rows, c1, c2, titleX, titleY } = props;
  const items = temps.map((t, i) => {
    const col = i < 3 ? c1 : c2;
    const y = rows[i % 3];
    return (
      <g key={t + i}>
        <line x1={col[0]} y1={y} x2={col[1]} y2={y} stroke={colors[i]} strokeWidth={2.5} />
        <circle cx={(col[0] + col[1]) / 2} cy={y} r={3.2} fill={colors[i]} />
        <Txt x={col[2]} y={y} fs={29}>
          {t}
        </Txt>
      </g>
    );
  });
  return (
    <g>
      <text x={titleX} y={titleY + 10.5} fontSize={29} fontFamily={FONT} fill="#000">
        <tspan fontStyle="italic">T</tspan>
        <tspan> (mK)</tspan>
      </text>
      {items}
    </g>
  );
}

function Compound(props: { x: number; y: number }) {
  const { x, y } = props;
  return (
    <text x={x} y={y + 12} fontSize={33} fontFamily={FONT} fill="#000">
      LaRh
      <tspan fontSize={23} dy={8}>
        2
      </tspan>
      <tspan dy={-8}>As</tspan>
      <tspan fontSize={23} dy={8}>
        2
      </tspan>
    </text>
  );
}

function FieldDir(props: { x: number; y: number; dir: string }) {
  const { x, y, dir } = props;
  return (
    <text x={x} y={y + 10} fontSize={28} fontFamily={FONT} fill="#000" fontStyle="italic">
      μ
      <tspan fontSize={19} dy={6}>
        0
      </tspan>
      <tspan dy={-6}>{`H || ${dir}`}</tspan>
    </text>
  );
}

function Overlay() {
  return (
    <svg width={747} height={1540} style={{ position: "absolute", left: 0, top: 0, pointerEvents: "none" }}>
      {/* panel letters */}
      <Txt x={10} y={31} fs={36}>(a)</Txt>
      <Txt x={10} y={527} fs={36}>(b)</Txt>
      <Txt x={10} y={1037} fs={36}>(c)</Txt>

      {/* y titles */}
      <YTitle cx={36} cy={267} />
      <YTitle cx={36} cy={830} />
      <YTitle cx={37} cy={1268} />

      {/* panel (a) */}
      <FieldDir x={197} y={136} dir="c" />
      <Compound x={197} y={236} />
      <Txt x={590} y={84}>up sweep</Txt>
      <Legend temps={A_TEMPS} colors={A_COLORS} rows={[188, 223, 258]} c1={[533, 565, 570]} c2={[613, 647, 652]} titleX={590} titleY={155} />
      <Hc x={312} y={330} sub="c2" fill="#000" />
      <Hc x={210} y={352} sub="c2,on" fill="#0000ff" />
      <Hc x={238} y={436} sub="c2,off" fill="#ff0000" />

      {/* panel (b) */}
      <FieldDir x={215} y={697} dir="ab" />
      <Compound x={199} y={772} />
      <Txt x={607} y={652}>up sweep</Txt>
      <Legend temps={B_TEMPS} colors={B_COLORS} rows={[738, 774, 810]} c1={[527, 560, 570]} c2={[607, 642, 648]} titleX={593} titleY={707} />
      <Hc x={163} y={898} sub="c2,on" fill="#0000ff" />
      <Hc x={245} y={898} sub="c2" fill="#000" />
      <Hc x={183} y={991} sub="c2,off" fill="#ff0000" />

      {/* panel (c) */}
      <Txt x={193} y={1163} fs={34}>Al</Txt>
      <Txt x={180} y={1377} fs={28}>37 mK</Txt>
      <Txt x={372} y={1263} fs={28} fill={C_LBLUE}>down sweep</Txt>
      <Txt x={608} y={1347} fs={28}>up sweep</Txt>

      {/* x title */}
      <text x={450} y={1518} textAnchor="middle" fontSize={40} fontFamily={FONT} fill="#000">
        <tspan fontStyle="italic">μ</tspan>
        <tspan fontStyle="italic" fontSize={27} dy={8}>0</tspan>
        <tspan fontStyle="italic" dy={-8}>H</tspan>
        <tspan> (mT)</tspan>
      </text>
    </svg>
  );
}

export default function App() {
  return (
    <div style={{ position: "absolute", left: 0, top: 0, width: 747, height: 1540, background: "#fff" }}>
      <Panel top={6} h={294} bottom={1} domain={[-1.2, 0.1]} yTicks={Y_TICKS_MAIN} yLabels={Y_LABELS_MAIN} xLabels={false} labelGap={14} xLabelDy={0} series={A_SERIES} arrows={ARROWS_A1} />
      <Panel top={300} h={177} bottom={60} domain={[-0.02, 0.035]} yTicks={Y_TICKS_ZOOM} yLabels={Y_LABELS_ZOOM} xLabels={true} labelGap={19} xLabelDy={47} series={A_SERIES} arrows={ARROWS_A2} />
      <Panel top={564} h={294} bottom={1} domain={[-1.2, 0.1]} yTicks={Y_TICKS_MAIN} yLabels={Y_LABELS_MAIN} xLabels={false} labelGap={14} xLabelDy={0} series={B_SERIES} arrows={ARROWS_B1} />
      <Panel top={858} h={176} bottom={60} domain={[-0.02, 0.035]} yTicks={Y_TICKS_ZOOM} yLabels={Y_LABELS_ZOOM} xLabels={true} labelGap={19} xLabelDy={47} series={B_SERIES} arrows={ARROWS_B2} />
      <Panel top={1122} h={292} bottom={60} domain={[-1.1, 0.8]} yTicks={Y_TICKS_C} yLabels={Y_LABELS_C} xLabels={true} labelGap={14} xLabelDy={40} series={C_SERIES} arrows={ARROWS_C} />
      <Overlay />
    </div>
  );
}
